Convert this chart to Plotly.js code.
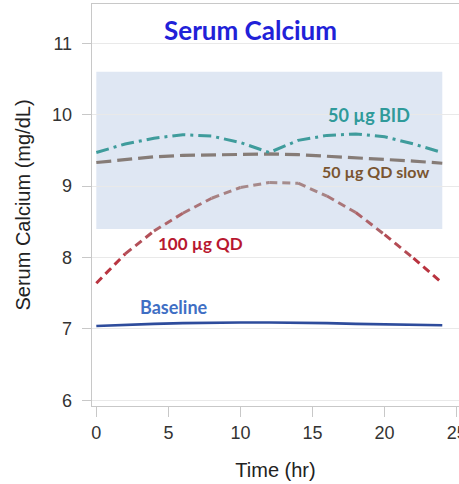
<!DOCTYPE html>
<html>
<head>
<meta charset="utf-8">
<script src="https://cdn.plot.ly/plotly-3.0.1.min.js"></script>
<style>html,body{margin:0;padding:0;background:#fff;}#chart{width:459px;height:484px;}</style>
</head>
<body>
<div id="chart"></div>
<script>
// Time points (hr)
const timeHr = [0, 2, 4, 6, 8, 10, 12, 14, 16, 18, 20, 22, 24];
const baseline = [7.04, 7.06, 7.07, 7.08, 7.09, 7.09, 7.09, 7.09, 7.08, 7.07, 7.06, 7.05, 7.05];
const qd100 = [7.64, 8.05, 8.37, 8.62, 8.83, 8.98, 9.05, 9.04, 8.86, 8.63, 8.32, 7.99, 7.64];
const qdSlow50 = [9.33, 9.37, 9.41, 9.43, 9.44, 9.45, 9.45, 9.44, 9.42, 9.40, 9.38, 9.35, 9.32];
const bid50 = [9.47, 9.59, 9.67, 9.72, 9.70, 9.61, 9.47, 9.64, 9.71, 9.73, 9.69, 9.59, 9.47];
const targetRange = [8.4, 10.6];
const targetTime = [0, 24];
const labels = {bid: "50 µg BID", slow: "50 µg QD slow", qd: "100 µg QD", base: "Baseline"};
const yTicks = [6, 7, 8, 9, 10, 11];
const xTicks = [0, 5, 10, 15, 20, 25];

const traces = [];
// baseline
traces.push({x: timeHr, y: baseline, mode: 'lines', line: {color: '#2e4c9c', width: 2.6}, hoverinfo: 'skip'});
// 100 ug QD with colour shifting from red (low) to grey-mauve (high)
const lo = [188, 38, 52], hi = [165, 140, 140];
const yMin = Math.min(...qd100), yMax = Math.max(...qd100);
for (let i = 0; i < timeHr.length - 1; i++) {
  const f = ((qd100[i] + qd100[i+1]) / 2 - yMin) / (yMax - yMin);
  const c = lo.map((v, k) => Math.round(v + (hi[k] - v) * f));
  traces.push({x: [timeHr[i], timeHr[i+1]], y: [qd100[i], qd100[i+1]], mode: 'lines',
    line: {color: `rgb(${c.join(',')})`, width: 3, dash: '8px,5px'}, hoverinfo: 'skip'});
}
traces.push({x: timeHr, y: qdSlow50, mode: 'lines', line: {color: '#867c77', width: 3.2, dash: '15px,6px'}, hoverinfo: 'skip'});
traces.push({x: timeHr, y: bid50, mode: 'lines', line: {color: '#3f9c9c', width: 3, dash: '13px,5px,3px,5px'}, hoverinfo: 'skip'});

const lblFont = (c, s) => ({family: 'Lato, "Open Sans", sans-serif', size: s, color: c, weight: 'bold'});
const layout = {
  width: 459, height: 484,
  margin: {l: 92, r: 0, t: 4, b: 78},
  paper_bgcolor: '#ffffff', plot_bgcolor: '#ffffff',
  showlegend: false,
  title: {text: '<b>Serum Calcium</b>', xref: 'paper', x: 0.432, xanchor: 'center', yref: 'container', y: 0.936, yanchor: 'middle',
    font: {family: 'Lato, "Open Sans", sans-serif', size: 26, color: '#2121d8'}},
  xaxis: {range: [-0.3, 25.16], tickvals: xTicks, ticktext: xTicks.map(String), showgrid: false, zeroline: false,
    showline: true, linecolor: '#c8c8c8', linewidth: 1.3, mirror: true, ticks: 'outside', ticklen: 10, tickcolor: '#c8c8c8',
    ticklabeloverflow: 'allow',
    tickfont: {family: '"Liberation Sans", Arial, sans-serif', size: 18, color: '#333'},
    title: {text: 'Time (hr)', font: {family: '"Liberation Sans", Arial, sans-serif', size: 20, color: '#222'}, standoff: 21}},
  yaxis: {range: [5.92, 11.55], tickvals: yTicks, ticktext: yTicks.map(String), showgrid: true, gridcolor: '#e9e9e9', gridwidth: 1, zeroline: false,
    showline: true, linecolor: '#c8c8c8', linewidth: 1.3, mirror: false, ticks: 'outside', ticklen: 9, tickcolor: '#c8c8c8',
    ticklabelstandoff: 6,
    tickfont: {family: '"Liberation Sans", Arial, sans-serif', size: 18, color: '#333'},
    title: {text: 'Serum Calcium (mg/dL)', font: {family: '"Liberation Sans", Arial, sans-serif', size: 20, color: '#222'}, standoff: 16}},
  shapes: [{type: 'rect', xref: 'x', yref: 'y', x0: targetTime[0], x1: targetTime[1], y0: targetRange[0], y1: targetRange[1],
    fillcolor: '#dfe7f3', line: {width: 0}, layer: 'below'}],
  annotations: [
    {x: 18.9, y: 10.0, xref: 'x', yref: 'y', text: '<b>' + labels.bid + '</b>', showarrow: false, font: lblFont('#2f9a9a', 18)},
    {x: 19.4, y: 9.2, xref: 'x', yref: 'y', text: '<b>' + labels.slow + '</b>', showarrow: false, font: lblFont('#7a5530', 16)},
    {x: 7.2, y: 8.2, xref: 'x', yref: 'y', text: '<b>' + labels.qd + '</b>', showarrow: false, font: lblFont('#b8172f', 17)},
    {x: 5.4, y: 7.31, xref: 'x', yref: 'y', text: '<b>' + labels.base + '</b>', showarrow: false, font: lblFont('#3f6fc4', 18)}
  ]
};
Plotly.newPlot('chart', traces, layout, {staticPlot: true, displayModeBar: false});
</script>
</body>
</html>
